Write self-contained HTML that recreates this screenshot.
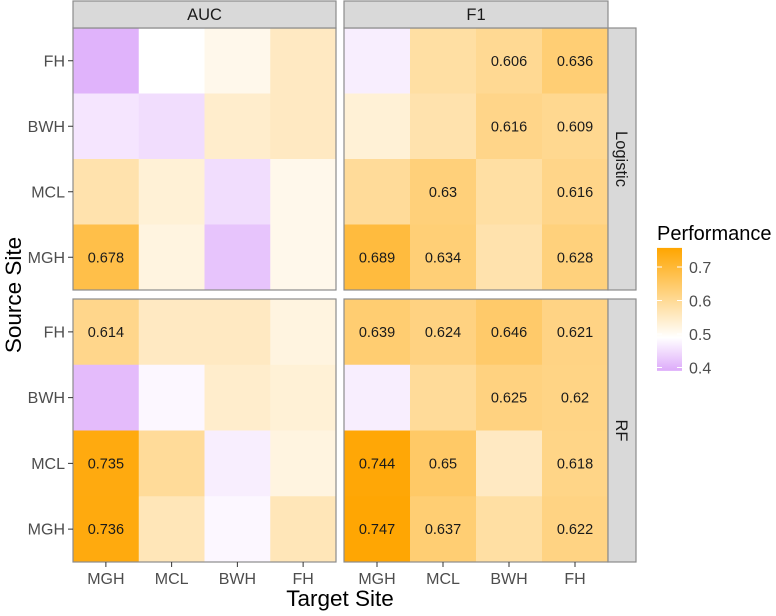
<!DOCTYPE html>
<html><head><meta charset="utf-8"><style>
body{margin:0;background:#fff;}
svg text{font-family:"Liberation Sans",Arial,sans-serif;}
</style></head><body>
<svg id="chart" width="776" height="611" xmlns="http://www.w3.org/2000/svg">
<defs>
<linearGradient id="lg" x1="0" y1="1" x2="0" y2="0">
<stop offset="0" stop-color="#DDAAFA"/>
<stop offset="0.27" stop-color="#FFFFFF"/>
<stop offset="1" stop-color="#FFA500"/>
</linearGradient>
</defs>
<g id="plot"></g>
</svg>
<script>
const targets = ["MGH","MCL","BWH","FH"];
const sources = ["FH","BWH","MCL","MGH"];
const metrics = ["AUC","F1"];
const models = ["Logistic","RF"];
const logAUC = [[0.41,0.50,0.52,0.56],[0.47,0.46,0.55,0.56],[0.58,0.54,0.46,0.52],[0.678,0.53,0.43,0.52]];
const logF1 = [[0.48,0.59,0.606,0.636],[0.54,0.58,0.616,0.609],[0.60,0.63,0.59,0.616],[0.689,0.634,0.58,0.628]];
const rfAUC = [[0.614,0.56,0.56,0.53],[0.42,0.49,0.55,0.54],[0.735,0.60,0.48,0.53],[0.736,0.57,0.49,0.57]];
const rfF1 = [[0.639,0.624,0.646,0.621],[0.48,0.60,0.625,0.62],[0.744,0.65,0.56,0.618],[0.747,0.637,0.59,0.622]];
const logAUCLabels = [[null,null,null,null],[null,null,null,null],[null,null,null,null],["0.678",null,null,null]];
const logF1Labels = [[null,null,"0.606","0.636"],[null,null,"0.616","0.609"],[null,"0.63",null,"0.616"],["0.689","0.634",null,"0.628"]];
const rfAUCLabels = [["0.614",null,null,null],[null,null,null,null],["0.735",null,null,null],["0.736",null,null,null]];
const rfF1Labels = [["0.639","0.624","0.646","0.621"],[null,null,"0.625","0.62"],["0.744","0.65",null,"0.618"],["0.747","0.637",null,"0.622"]];
const legendTicks = [0.4,0.5,0.6,0.7];

const NS="http://www.w3.org/2000/svg";
const g=document.getElementById('plot');
function mk(t,a,p){const e=document.createElementNS(NS,t);for(const k in a)e.setAttribute(k,a[k]);(p||g).appendChild(e);return e;}
const panelX=[[73,336],[344,608]], panelY=[[28,290],[299,562]];
function lerp(a,b,t){return Math.round(a+(b-a)*t);}
function color(v){
  const lo=[0xDD,0xAA,0xFA], mid=[255,255,255], hi=[0xFF,0xA5,0x00];
  let c;
  if(v<0.5){const t=Math.min(1,(0.5-v)/0.1);c=mid.map((m,i)=>lerp(m,lo[i],t));}
  else{const t=Math.min(1,(v-0.5)/0.25);c=mid.map((m,i)=>lerp(m,hi[i],t));}
  return `rgb(${c[0]},${c[1]},${c[2]})`;
}
const grid=[[logAUC,logF1],[rfAUC,rfF1]], labs=[[logAUCLabels,logF1Labels],[rfAUCLabels,rfF1Labels]];
for(let m=0;m<2;m++){for(let k=0;k<2;k++){
  const [x0,x1]=panelX[k],[y0,y1]=panelY[m];
  const cw=(x1-x0)/targets.length, ch=(y1-y0)/sources.length;
  const data=grid[m][k], L=labs[m][k];
  for(let r=0;r<sources.length;r++)for(let c=0;c<targets.length;c++){
    const e=mk('rect',{x:x0+c*cw,y:y0+r*ch,width:cw+0.5,height:ch+0.5,fill:color(data[r][c])});
    
    
    if(L[r][c]){const t=mk('text',{x:x0+(c+0.5)*cw,y:y0+(r+0.5)*ch+5,'text-anchor':'middle','font-size':14.5,fill:'#1a1a1a'});t.textContent=L[r][c];
      
      }
  }
  const b=mk('rect',{x:x0,y:y0,width:x1-x0,height:y1-y0,fill:'none',stroke:'#8c8c8c','stroke-width':1.2});
  
  
  if(k===0){for(let r=0;r<sources.length;r++){const yy=y0+(r+0.5)*ch;
    mk('line',{x1:68,x2:73,y1:yy,y2:yy,stroke:'#333'});
    const t=mk('text',{x:65,y:yy+5.5,'text-anchor':'end','font-size':16,fill:'#4d4d4d'});t.textContent=sources[r];
    
    }}
  if(m===1){for(let c=0;c<targets.length;c++){const xx=x0+(c+0.5)*cw;
    mk('line',{x1:xx,x2:xx,y1:562,y2:567,stroke:'#333'});
    const t=mk('text',{x:xx,y:584,'text-anchor':'middle','font-size':16,fill:'#4d4d4d'});t.textContent=targets[c];
    
    }}
}}
for(let k=0;k<2;k++){const [x0,x1]=panelX[k];
  const s=mk('rect',{x:x0,y:1,width:x1-x0,height:27,fill:'#d9d9d9',stroke:'#8c8c8c','stroke-width':1.2});
  
  
  const t=mk('text',{x:(x0+x1)/2,y:20,'text-anchor':'middle','font-size':16.5,fill:'#1a1a1a'});t.textContent=metrics[k];
  
  }
for(let m=0;m<2;m++){const [y0,y1]=panelY[m];
  const s=mk('rect',{x:608,y:y0,width:28,height:y1-y0,fill:'#d9d9d9',stroke:'#8c8c8c','stroke-width':1.2});
  
  
  const cy=(y0+y1)/2;
  const t=mk('text',{x:622,y:cy,'text-anchor':'middle','font-size':16.5,fill:'#1a1a1a',transform:`rotate(90 622 ${cy}) translate(0 6)`});t.textContent=models[m];
  
  }
let t=mk('text',{x:340,y:606,'text-anchor':'middle','font-size':22.5,fill:'#000'});t.textContent='Target Site';


t=mk('text',{x:0,y:0,'text-anchor':'middle','font-size':22.5,fill:'#000',transform:'translate(21 295) rotate(-90)'});t.textContent='Source Site';


const lt=mk('text',{x:657,y:240,'font-size':20,fill:'#000'});lt.textContent='Performance';


const ly=v=>334-(v-0.5)*335;
const bar=mk('rect',{x:657,y:ly(0.757),width:25,height:ly(0.39)-ly(0.757),fill:'url(#lg)'});


legendTicks.forEach(v=>{const y=ly(v);
  mk('line',{x1:657,x2:662,y1:y,y2:y,stroke:'#fff','stroke-width':1});
  mk('line',{x1:677,x2:682,y1:y,y2:y,stroke:'#fff','stroke-width':1});
  const tt=mk('text',{x:689,y:y+6,'font-size':16,fill:'#4d4d4d'});tt.textContent=v.toFixed(1);
  
  });
</script>
</body></html>
